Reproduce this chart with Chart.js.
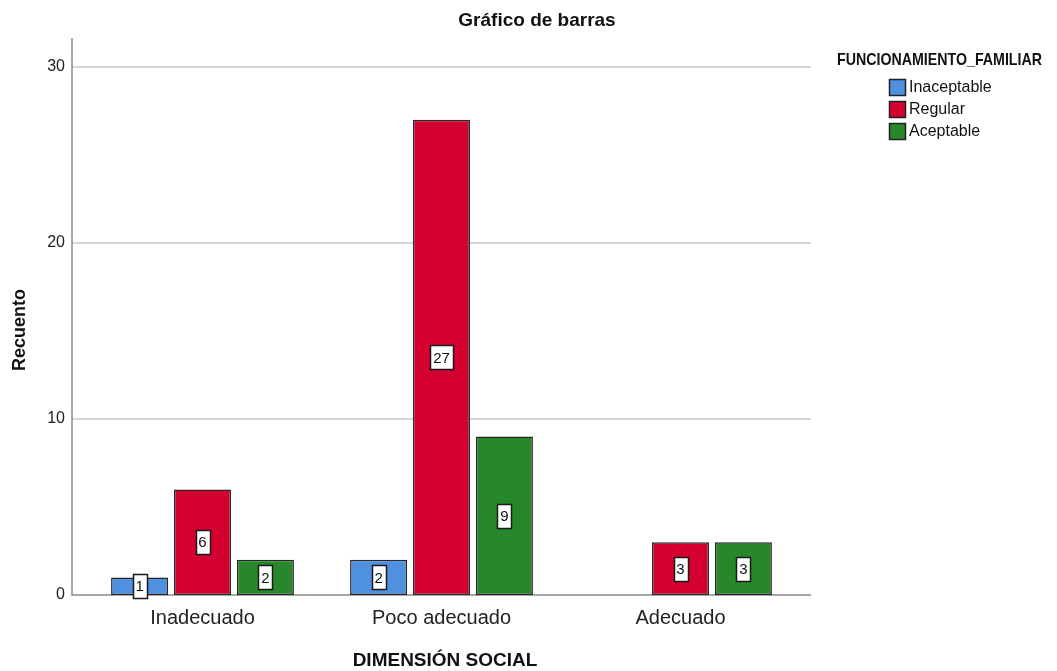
<!DOCTYPE html>
<html>
<head>
<meta charset="utf-8">
<script src="https://cdn.jsdelivr.net/npm/chart.js@4.4.1/dist/chart.umd.min.js"></script>
<style>
  html, body { margin: 0; padding: 0; background: #fff; }
  #wrap { width: 1057px; height: 671px; position: relative; }
</style>
</head>
<body>
<div id="wrap"><canvas id="barChart"></canvas></div>
<script>
const categories = ['Inadecuado', 'Poco adecuado', 'Adecuado'];
const inaceptable = [1, 2, 0];
const regular = [6, 27, 3];
const aceptable = [2, 9, 3];
const yTicks = [0, 10, 20, 30];

const FONT = "'Liberation Sans', Arial, sans-serif";

// gridlines + axis lines, drawn a little wider than the chart area like SPSS does
const framePlugin = {
    id: 'frame',
    beforeDatasetsDraw(chart) {
        const { ctx, chartArea, scales } = chart;
        const left = chartArea.left - 11;
        const right = chartArea.right + 11;
        ctx.save();
        ctx.strokeStyle = '#d6d6d6';
        ctx.lineWidth = 2;
        yTicks.forEach(v => {
            if (v === 0) return;
            const y = Math.round(scales.y.getPixelForValue(v));
            ctx.beginPath();
            ctx.moveTo(left, y);
            ctx.lineTo(right, y);
            ctx.stroke();
        });
        ctx.strokeStyle = '#8a8a8a';
        ctx.lineWidth = 1.5;
        ctx.beginPath();
        ctx.moveTo(left, chartArea.top);
        ctx.lineTo(left, scales.y.getPixelForValue(0));
        ctx.lineTo(right, scales.y.getPixelForValue(0));
        ctx.stroke();
        ctx.restore();
    }
};

// value boxes in the middle of each bar
const labelPlugin = {
    id: 'valueBoxes',
    afterDatasetsDraw(chart) {
        const { ctx } = chart;
        ctx.save();
        ctx.font = '15px ' + FONT;
        ctx.textAlign = 'center';
        ctx.textBaseline = 'middle';
        chart.data.datasets.forEach((ds, i) => {
            chart.getDatasetMeta(i).data.forEach((bar, j) => {
                const v = ds.data[j];
                if (!v) return;
                const cx = bar.x;
                const cy = (bar.y + bar.base) / 2;
                const txt = String(v);
                const w = Math.round(ctx.measureText(txt).width + 6);
                const h = 24;
                const x0 = Math.round(cx - w / 2) + 0.5;
                const y0 = Math.round(cy - h / 2) + 0.5;
                ctx.fillStyle = '#fff';
                ctx.fillRect(x0, y0, w, h);
                ctx.strokeStyle = '#1a1a1a';
                ctx.lineWidth = 1.5;
                ctx.strokeRect(x0, y0, w, h);
                ctx.fillStyle = '#111';
                ctx.fillText(txt, cx, cy + 1);
            });
        });
        ctx.restore();
    }
};

// titles and legend
const textPlugin = {
    id: 'texts',
    afterDraw(chart) {
        const { ctx } = chart;
        ctx.save();
        ctx.fillStyle = '#111';
        ctx.textBaseline = 'middle';
        ctx.textAlign = 'center';

        ctx.font = 'bold 19px ' + FONT;
        ctx.fillText('Gráfico de barras', 537, 21);
        ctx.fillText('DIMENSIÓN SOCIAL', 445, 661);

        ctx.save();
        ctx.translate(20, 330);
        ctx.rotate(-Math.PI / 2);
        ctx.font = 'bold 18px ' + FONT;
        ctx.fillText('Recuento', 0, 0);
        ctx.restore();

        // legend title, condensed
        ctx.font = 'bold 17px ' + FONT;
        const title = 'FUNCIONAMIENTO_FAMILIAR';
        const tw = ctx.measureText(title).width;
        ctx.save();
        ctx.translate(837, 60);
        ctx.scale(205 / tw, 1);
        ctx.textAlign = 'left';
        ctx.fillText(title, 0, 0);
        ctx.restore();

        ctx.textAlign = 'left';
        ctx.font = '16px ' + FONT;
        chart.data.datasets.forEach((ds, i) => {
            const y = 79 + i * 22;
            ctx.fillStyle = ds.backgroundColor;
            ctx.fillRect(889, y, 16, 16);
            ctx.strokeStyle = '#222';
            ctx.lineWidth = 1.5;
            ctx.strokeRect(889.5, y + 0.5, 16, 16);
            ctx.fillStyle = '#111';
            ctx.fillText(ds.label, 909, y + 9);
        });
        ctx.restore();
    }
};

const barStyle = (color, values) => ({
    backgroundColor: color,
    borderColor: '#262626',
    borderWidth: values.map(v => (v ? 1.5 : 0)),
    borderSkipped: false,
    categoryPercentage: 0.79,
    barPercentage: 0.905
});

new Chart(document.getElementById('barChart'), {
    type: 'bar',
    data: {
        labels: categories,
        datasets: [
            { label: 'Inaceptable', data: inaceptable, ...barStyle('#4f90e0', inaceptable) },
            { label: 'Regular', data: regular, ...barStyle('#d30030', regular) },
            { label: 'Aceptable', data: aceptable, ...barStyle('#27872a', aceptable) }
        ]
    },
    options: {
        responsive: true,
        maintainAspectRatio: false,
        animation: false,
        layout: { padding: { left: 0, right: 257, top: 38, bottom: 0 } },
        plugins: {
            legend: { display: false },
            title: { display: false },
            tooltip: { enabled: false }
        },
        scales: {
            x: {
                grid: { display: false, drawTicks: false },
                border: { display: false },
                ticks: {
                    color: '#222',
                    padding: 11,
                    font: { family: FONT, size: 20 }
                },
                afterFit: s => { s.height = 76; }
            },
            y: {
                min: 0,
                max: 31.65,
                grid: { display: false, drawTicks: false },
                border: { display: false },
                afterBuildTicks: s => { s.ticks = yTicks.map(v => ({ value: v })); },
                ticks: {
                    color: '#222',
                    padding: 18,
                    font: { family: FONT, size: 16 }
                },
                afterFit: s => { s.width = 83; }
            }
        }
    },
    plugins: [framePlugin, labelPlugin, textPlugin]
});
</script>
</body>
</html>
